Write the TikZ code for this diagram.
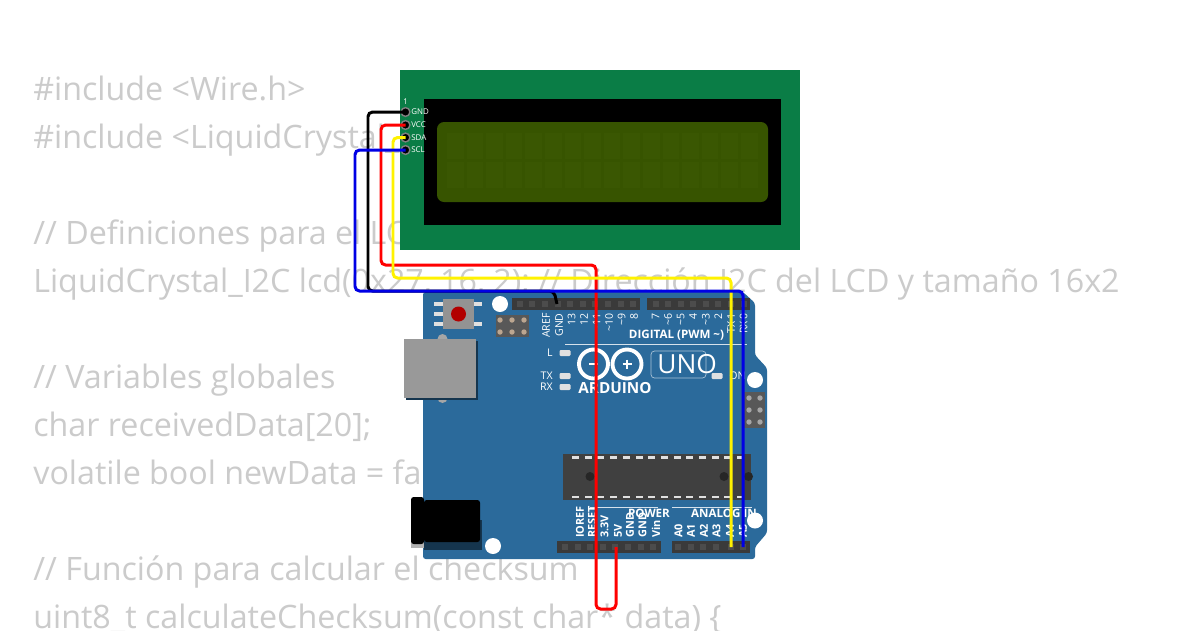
\documentclass[tikz,border=0pt]{standalone}
\usepackage{fontspec}
\setmainfont{Open Sans}
\definecolor{codegray}{HTML}{CBCBCB}
\definecolor{boardblue}{HTML}{2B6A9B}
\definecolor{lcdgreen}{HTML}{0A7D46}
\definecolor{lcdscreen}{HTML}{375400}
\definecolor{cellgreen}{HTML}{3A5702}
\definecolor{headergray}{HTML}{3A3A3A}
\definecolor{pingray}{HTML}{585858}
\tikzset{
  codeline/.style={anchor=base west,text=codegray,inner sep=0pt,font=\fontsize{18.35}{20}\selectfont},
  wire/.style={line width=1.7pt,rounded corners=2.6pt},
  pinring/.style={circle,fill=black,draw=gray,line width=0.8pt,inner sep=0pt,minimum size=5pt},
  lcdlabel/.style={anchor=west,text=white,inner sep=0pt,font=\fontsize{4.5}{5}\selectfont},
  boardlabel/.style={rotate=90,text=white,inner sep=0pt,font=\fontsize{6}{7}\selectfont},
  powerlabel/.style={rotate=90,text=white,inner sep=0pt,font=\bfseries\fontsize{6.2}{7}\selectfont},
  boardhead/.style={text=white,inner sep=0pt,font=\bfseries\fontsize{6.6}{7}\selectfont},
  ledmark/.style={fill=black!12,rounded corners=0.6pt},
  ledlabel/.style={text=white,inner sep=0pt,font=\fontsize{6}{7}\selectfont},
  holemark/.style={fill=white},
}
\begin{document}
\begin{tikzpicture}[x=0.02cm,y=-0.02cm]
    \clip (0,0) rectangle (1200,630);
    \fill[white] (0,0) rectangle (1200,630);

    % code behind the parts
    \node[codeline] (code1) at (33,100) {\#include <Wire.h>};
    \node[codeline] (code2) at (33,148) {\#include <LiquidCrystal\_I2C.h>};
    \node[codeline] (code3) at (33,244) {// Definiciones para el LCD};
    \node[codeline] (code4) at (33,292) {LiquidCrystal\_I2C lcd(0x27, 16, 2); // Dirección I2C del LCD y tamaño 16x2};
    \node[codeline] (code5) at (33,388) {// Variables globales};
    \node[codeline] (code6) at (33,436) {char receivedData[20];};
    \node[codeline] (code7) at (33,484) {volatile bool newData = false;};
    \node[codeline] (code8) at (33,580) {// Función para calcular el checksum};
    \node[codeline] (code9) at (33,628) {uint8\_t calculateChecksum(const char* data) \{};

    % LCD
    \fill[lcdgreen] (400,70) rectangle (800,250);
    \fill[black] (424,99) rectangle (781,225);
    \fill[lcdscreen,rounded corners=4pt] (437,122) rectangle (768,202);
    \foreach \col in {0,...,15}
      \foreach \row in {0,1}
        \fill[cellgreen] ({447+\col*19.6},{133+\row*29}) rectangle ++(16.5,26);
    \node[lcdlabel] (lcdone) at (403,101.5) {1};
    \foreach \y/\name/\txt in {112/lcdgnd/GND,125/lcdvcc/VCC,137.5/lcdsda/SDA,150/lcdscl/SCL} {
      \node[pinring] (\name) at (405.5,\y) {};
      \node[lcdlabel] at (411,\y) {\txt};
    }

    % board
    \fill[boardblue,rounded corners=1.5pt] (423,292) -- (743,292) -- (755,303) -- (755,355) -- (767,368)
      -- (767,533) -- (755,547) -- (755,559) -- (423,559) -- cycle;

    % headers
    \fill[headergray] (512,298) rectangle (640,310);
    \fill[headergray] (647,298) rectangle (749.5,310);
    \fill[headergray] (557,541) rectangle (661,553);
    \fill[headergray] (672,541) rectangle (750,553);
    \foreach \x in {519.7,532.3,544.9,557.5,570.1,582.7,595.3,607.9,620.5,633.1,
                    655.5,668,680.6,693.2,705.8,718.4,731,743.6}
      \fill[black!70] ({\x-3},301) rectangle ({\x+3},307);
    \foreach \x in {565,577.6,590.2,602.8,615.4,628,640.6,653.2,
                    678,690.6,703.2,715.8,730.5,743.3}
      \fill[black!70] ({\x-3},544) rectangle ({\x+3},550);

    % reset button, icsp, usb, jack
    \foreach \y in {302,312,322}
      \fill[black!12] (434,\y) rectangle (444,{\y+4});
    \foreach \y in {302,322}
      \fill[black!12] (473,\y) rectangle (482,{\y+4});
    \fill[gray!85] (443,299) rectangle (474,329);
    \fill[red!70!black] (458.5,314) circle (7.5);
    \fill[pingray] (496,315) rectangle (529,337);
    \foreach \x in {500,512,524}
      \foreach \y in {320,332}
        \fill[gray!50!brown!70] (\x,\y) circle (2.7);
    \fill[pingray] (744,392) rectangle (765,428);
    \foreach \x in {749,760}
      \foreach \y in {398,410,422}
        \fill[gray!70] (\x,\y) circle (2.7);
    \fill[gray!70] (442.5,339) circle (5);
    \fill[gray!70] (442.5,398) circle (5);
    \fill[black!50!boardblue] (406,341) rectangle (478,400);
    \fill[gray!80] (404,339) rectangle (476,398);
    \fill[black!50!boardblue] (424,520) rectangle (482,550);
    \fill[black!30] (411,540) rectangle (424,548);
    \fill[black,rounded corners=1.5pt] (411,497) rectangle (424,544);
    \fill[black,rounded corners=1.5pt] (424,500) rectangle (480,542);

    \fill[holemark] (500,304) circle (8);
    \fill[holemark] (493,546) circle (8);
    \fill[holemark] (755,380) circle (8);
    \fill[holemark] (755,520.5) circle (8);

    % chip
    \fill[black!75] (563,454) rectangle (751,500);
    \foreach \i in {0,...,13} {
      \fill[black!12] ({572+\i*12.7},456) rectangle ++(7,2.5);
      \fill[black!12] ({572+\i*12.7},495.5) rectangle ++(7,2.5);
    }
    \fill[black!85] (590,476.5) circle (4.5);
    \fill[black!85] (724,476.5) circle (4.5);
    \fill[black!85] (748.5,476.5) circle (4.5);

    % leds
    \foreach \x/\y in {565/353,565/376,565/387,717/376}
      \fill[ledmark] ({\x-5.5},{\y-3}) rectangle ({\x+5.5},{\y+3});
    \node[ledlabel,anchor=east] (ledl) at (553,353) {L};
    \node[ledlabel,anchor=east] (ledtx) at (553,376) {TX};
    \node[ledlabel,anchor=east] (ledrx) at (553,387) {RX};
    \node[ledlabel,anchor=west] (ledon) at (729,376) {ON};

    % pin labels
    \foreach \x/\txt in {546/AREF,559/GND,571.5/13,584/12,596.5/\textasciitilde 11,609/\textasciitilde 10,621.5/\textasciitilde 9,634/8,
                         655.5/7,668/\textasciitilde 6,680.6/\textasciitilde 5,693.2/4,705.8/\textasciitilde 3,718.4/2,731/TX\,1,743.6/RX\,0}
      \node[boardlabel,anchor=east] at (\x,313) {\txt};
    \foreach \x/\txt in {580/IOREF,592/RESET,604.5/3.3V,618/5V,630/GND,642.5/GND,656/Vin,
                         678.5/A0,691/A1,704/A2,716.5/A3,730/A4,743/A5}
      \node[powerlabel,anchor=west] at (\x,538) {\txt};
    \node[boardhead] (digital) at (676.5,335) {DIGITAL (PWM \textasciitilde)};
    \node[boardhead] (power) at (649,513) {POWER};
    \node[boardhead] (analog) at (724,513) {ANALOG IN};
    \draw[white!80!boardblue,line width=0.5pt] (565,344) -- (747,344);
    \draw[white!80!boardblue,line width=0.5pt] (590,507) -- (658,507);
    \draw[white!80!boardblue,line width=0.5pt] (672,507) -- (752,507);

    % logo
    \draw[white,line width=2.2pt] (593.5,364) circle (14.5);
    \draw[white,line width=2.2pt] (627,364) circle (14.5);
    \draw[white,line width=1pt] (589,364) -- (598,364);
    \draw[white,line width=1pt] (622.5,364) -- (631.5,364);
    \draw[white,line width=1pt] (627,359.5) -- (627,368.5);
    \node[text=white,inner sep=0pt,font=\bfseries\fontsize{8.7}{9}\selectfont] (arduino) at (615,388) {ARDUINO};
    \draw[white!60!boardblue,line width=0.4pt,rounded corners=2pt] (651,351) rectangle (706,378);
    \node[anchor=west,text=white,inner sep=0pt,font=\fontsize{15}{16}\selectfont] (uno) at (657,364) {UNO};

    % wires
    \coordinate (hdrgnd) at (557,304);
    \coordinate (hdrfive) at (616,547);
    \coordinate (hdrafour) at (731,547);
    \coordinate (hdrafive) at (743,547);
    \draw[wire,black] (lcdgnd.center) -- (368,112) -- (368,291) -- (554,291) -- (hdrgnd);
    \draw[wire,red] (lcdvcc.center) -- (381,125) -- (381,265) -- (596,265) -- (596,609) -- (616,609) -- (hdrfive);
    \draw[wire,yellow] (lcdsda.center) -- (393,137.5) -- (393,278) -- (731,278) -- (hdrafour);
    \draw[wire,blue!90!black] (lcdscl.center) -- (355,150) -- (355,291) -- (743,291) -- (hdrafive);
\end{tikzpicture}
\end{document}
